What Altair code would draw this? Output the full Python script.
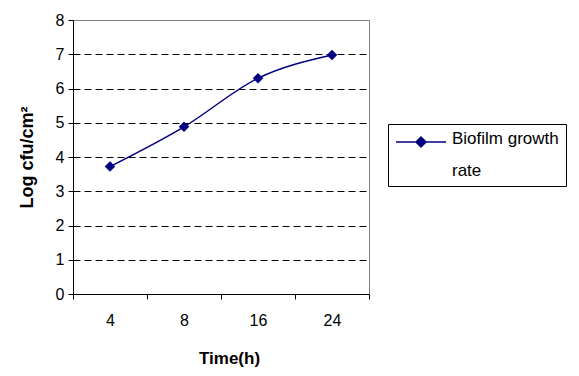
import altair as alt
import pandas as pd

times = ["4", "8", "16", "24"]
log_cfu = [3.72, 4.88, 6.3, 6.98]
series = ["Biofilm growth rate"] * 4
legend_lines = ["Biofilm growth", "rate"]

df = pd.DataFrame({"Time": times, "Value": log_cfu, "Series": series})

FONT = "Liberation Sans"

grid_dash = {"condition": {"test": "datum.value == 8", "value": []}, "value": [7, 4]}
grid_color = {"condition": {"test": "datum.value == 8", "value": "#808080"}, "value": "#000000"}

chart = alt.Chart(df).mark_line(
    interpolate="monotone",
    strokeWidth=1.5,
    point=alt.OverlayMarkDef(shape="diamond", size=110, filled=True, color="#000080"),
).encode(
    x=alt.X(
        "Time:N",
        sort=times,
        scale=alt.Scale(type="band", paddingInner=0, paddingOuter=0),
        axis=alt.Axis(
            title="Time(h)",
            labelAngle=0,
            tickBand="extent",
            tickSize=5,
            tickColor="#000000",
            domainColor="#000000",
            labelPadding=13,
            titlePadding=22,
            titleX=156,
            grid=False,
        ),
    ),
    y=alt.Y(
        "Value:Q",
        scale=alt.Scale(domain=[0, 8], nice=False),
        axis=alt.Axis(
            title="Log cfu/cm²",
            titleFontSize=18,
            values=[0, 1, 2, 3, 4, 5, 6, 7, 8],
            tickSize=5,
            tickColor="#000000",
            domainColor="#000000",
            labelPadding=4,
            titlePadding=19,
            grid=True,
            gridDash=grid_dash,
            gridColor=grid_color,
            gridOpacity=1,
        ),
    ),
    color=alt.Color(
        "Series:N",
        scale=alt.Scale(range=["#000080"]),
        legend=alt.Legend(
            title=legend_lines,
            titleOrient="right",
            titleAnchor="start",
            titleAlign="left",
            titleBaseline="top",
            titleFont=FONT,
            titleFontSize=17,
            titleFontWeight="normal",
            titleColor="#000000",
            titleLineHeight=32,
            titlePadding=3,
            titleLimit=300,
            labelExpr="''",
            labelOffset=0,
            orient="none",
            legendX=315,
            legendY=104,
            strokeColor="#000000",
            padding=7,
            symbolType="M-2.5,0H2.5M-0.5,0L0,-0.5L0.5,0L0,0.5Z",
            symbolSize=400,
            symbolStrokeWidth=1.5,
            symbolFillColor="#000080",
            symbolStrokeColor="#000080",
            symbolOffset=15,
        ),
    ),
).properties(
    width=296,
    height=274,
    background="white",
    autosize=alt.AutoSizeParams(type="none"),
    padding={"left": 73, "top": 20, "right": 210, "bottom": 82},
).configure_view(
    stroke="#808080",
    strokeWidth=1,
).configure_axis(
    labelFont=FONT,
    labelFontSize=16,
    labelColor="#000000",
    titleFont=FONT,
    titleFontSize=17,
    titleFontWeight="bold",
    titleColor="#000000",
)

chart.save("out.html", embed_options={"renderer": "svg", "actions": False})
